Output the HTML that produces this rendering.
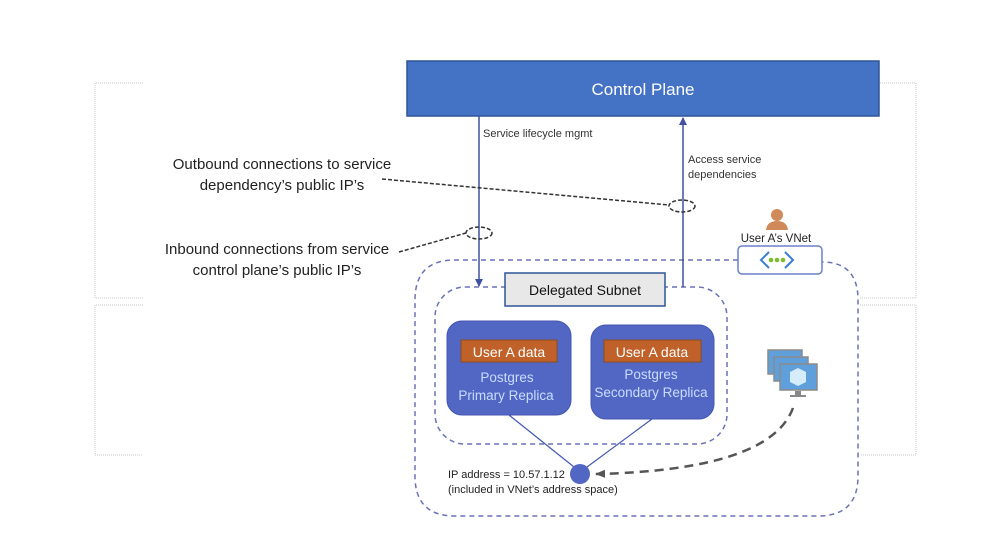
<!DOCTYPE html>
<html><head><meta charset="utf-8"><style>
html,body{margin:0;padding:0;background:#fff;}
svg{display:block;font-family:"Liberation Sans",sans-serif;}
</style></head><body>
<svg width="998" height="554" viewBox="0 0 998 554" xmlns="http://www.w3.org/2000/svg">
<defs>
<marker id="ah" markerWidth="8" markerHeight="8" refX="7" refY="4" orient="auto" markerUnits="userSpaceOnUse">
<path d="M0,0 L8,4 L0,8 z" fill="#3F51A0"/></marker>
<marker id="ag" markerWidth="10" markerHeight="10" refX="9" refY="5" orient="auto" markerUnits="userSpaceOnUse">
<path d="M0,1 L10,5 L0,9 z" fill="#555"/></marker>
</defs>
<rect width="998" height="554" fill="#fff"/>
<!-- faint brackets -->
<g fill="none" stroke="#c8c8c8" stroke-width="1" stroke-dasharray="1,1">
<path d="M143,83 H95 V298 H143"/><path d="M143,305 H95 V455 H143"/>
<path d="M860,83 H916 V298 H860"/><path d="M860,305 H916 V455 H860"/>
</g>
<!-- Control plane -->
<rect x="407" y="61" width="472" height="55" fill="#4472C4" stroke="#2F5597" stroke-width="1.5"/>
<text x="643" y="95" font-size="17" fill="#fff" text-anchor="middle">Control Plane</text>
<!-- outer vnet dashed -->
<path d="M738,260 H455 Q415,260 415,300 V476 Q415,516 455,516 H818 Q858,516 858,476 V300 Q858,262 822,262" fill="none" stroke="#6A72B8" stroke-width="1.5" stroke-dasharray="5,4"/>
<!-- inner subnet dashed -->
<rect x="435" y="287" width="292" height="157" rx="30" fill="none" stroke="#6A72B8" stroke-width="1.5" stroke-dasharray="5,4"/>
<!-- arrows -->
<line x1="479" y1="116" x2="479" y2="286" stroke="#3F51A0" stroke-width="1.5" marker-end="url(#ah)"/>
<line x1="683" y1="287" x2="683" y2="118" stroke="#3F51A0" stroke-width="1.5" marker-end="url(#ah)"/>
<text x="483" y="137" font-size="11" fill="#333">Service lifecycle mgmt</text>
<text x="688" y="163" font-size="11" fill="#333">Access service</text>
<text x="688" y="178" font-size="11" fill="#333">dependencies</text>
<!-- labels -->
<g font-size="15" fill="#222" text-anchor="middle">
<text x="282" y="169">Outbound connections to service</text>
<text x="282" y="190">dependency’s public IP’s</text>
<text x="277" y="254">Inbound connections from service</text>
<text x="277" y="275">control plane’s public IP’s</text>
</g>
<g fill="none" stroke="#333" stroke-width="1.5" stroke-dasharray="4,2">
<line x1="382" y1="179" x2="669" y2="205"/>
<ellipse cx="682" cy="206" rx="13" ry="6"/>
<line x1="399" y1="252" x2="466" y2="233"/>
<ellipse cx="479" cy="233" rx="13" ry="6"/>
</g>
<!-- delegated subnet -->
<rect x="505" y="273" width="160" height="33" fill="#E8E8E8" stroke="#2F5597" stroke-width="1.5"/>
<text x="585" y="295" font-size="14" fill="#111" text-anchor="middle">Delegated Subnet</text>
<!-- replicas -->
<rect x="447" y="321" width="124" height="94" rx="15" fill="#5267C4" stroke="#4457B0"/>
<rect x="461" y="340" width="96" height="22" fill="#C0612A" stroke="#8a4a20"/>
<text x="509" y="357" font-size="14" fill="#fff" text-anchor="middle">User A data</text>
<text x="507" y="382" font-size="13.5" fill="#C8DCFF" text-anchor="middle">Postgres</text>
<text x="506" y="400" font-size="13.5" fill="#C8DCFF" text-anchor="middle">Primary Replica</text>
<rect x="591" y="325" width="123" height="94" rx="15" fill="#5267C4" stroke="#4457B0"/>
<rect x="604" y="340" width="97" height="22" fill="#C0612A" stroke="#8a4a20"/>
<text x="652" y="357" font-size="14" fill="#fff" text-anchor="middle">User A data</text>
<text x="651" y="379" font-size="13.5" fill="#C8DCFF" text-anchor="middle">Postgres</text>
<text x="651" y="397" font-size="13.5" fill="#C8DCFF" text-anchor="middle">Secondary Replica</text>
<!-- connections -->
<line x1="509" y1="415" x2="574" y2="467" stroke="#4457B0" stroke-width="1.2"/>
<line x1="652" y1="419" x2="587" y2="467" stroke="#4457B0" stroke-width="1.2"/>
<circle cx="580" cy="474" r="10" fill="#5267C4"/>
<text x="448" y="478" font-size="11" fill="#222">IP address = 10.57.1.12</text>
<text x="448" y="493" font-size="11" fill="#222">(included in VNet’s address space)</text>
<path d="M793,408 Q770,470 596,474" fill="none" stroke="#555" stroke-width="2.5" stroke-dasharray="9,6" marker-end="url(#ag)"/>
<!-- VNet icon -->
<circle cx="777" cy="215" r="6" fill="#D08A5A"/>
<path d="M766,230 Q767,221 777,221 Q787,221 788,230 Z" fill="#D08A5A"/>
<text x="776" y="242" font-size="11.5" fill="#222" text-anchor="middle">User A’s VNet</text>
<rect x="738" y="246" width="84" height="28" rx="4" fill="#fff" stroke="#6A80C8" stroke-width="1.5"/>
<path d="M769,252 L761,260 L769,268" fill="none" stroke="#3A7BD5" stroke-width="2"/>
<path d="M785,252 L793,260 L785,268" fill="none" stroke="#3A7BD5" stroke-width="2"/>
<circle cx="771" cy="260" r="2.3" fill="#7DBA2F"/><circle cx="777" cy="260" r="2.3" fill="#7DBA2F"/><circle cx="783" cy="260" r="2.3" fill="#7DBA2F"/>
<!-- VM icon -->
<g stroke="#8a8a8a" stroke-width="1.5">
<rect x="768" y="350" width="34" height="24" fill="#5FA0DC"/>
<rect x="774" y="357" width="34" height="24" fill="#5FA0DC"/>
<rect x="780" y="364" width="37" height="26" fill="#5FA0DC"/>
</g>
<rect x="795" y="391" width="6" height="4" fill="#888"/>
<rect x="790" y="395" width="16" height="2" fill="#888"/>
<path d="M798,368 L806,372 L806,382 L798,386 L790,382 L790,372 Z" fill="#D6ECFA"/>
</svg>
</body></html>
